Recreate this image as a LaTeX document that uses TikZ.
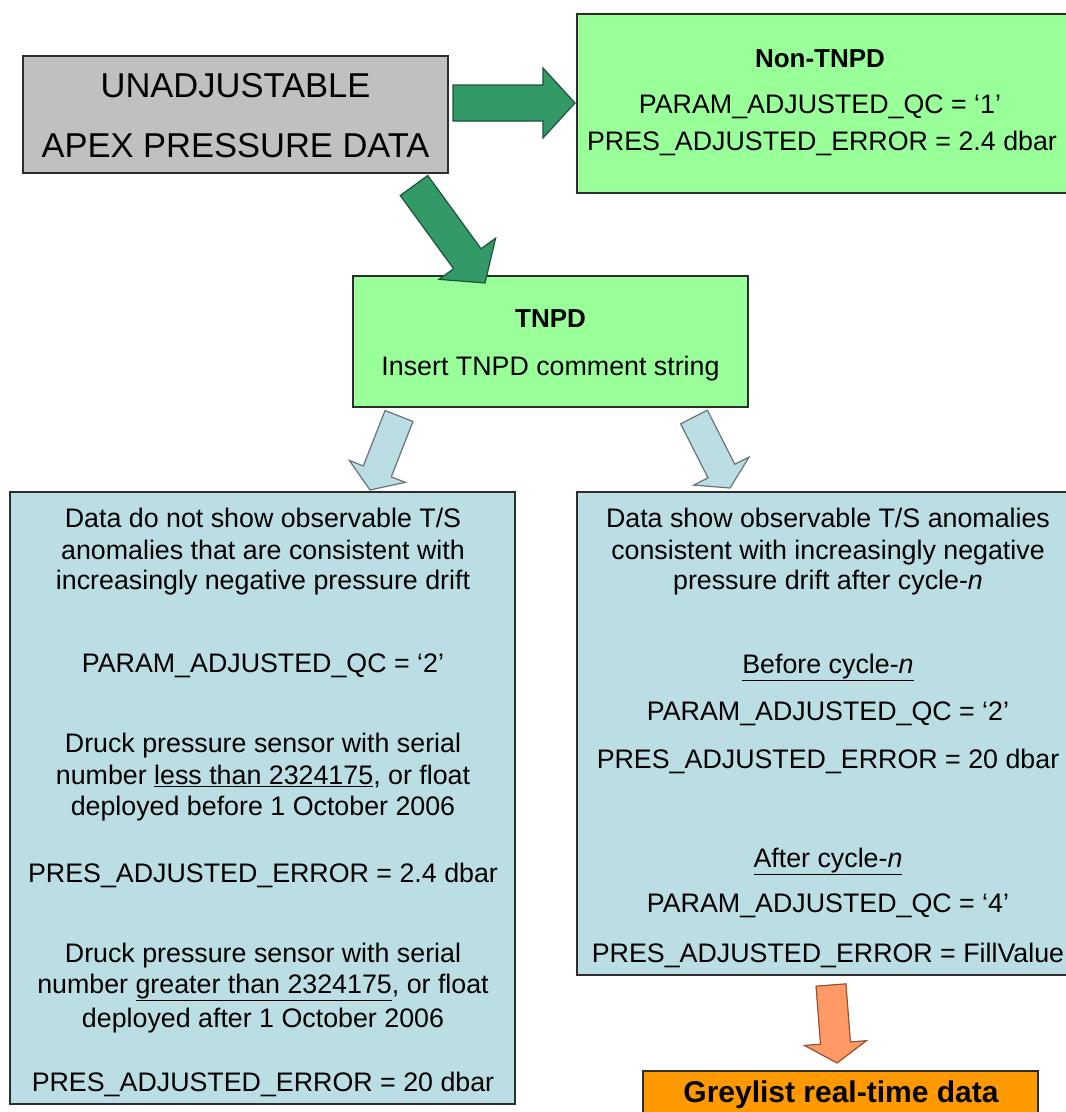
\documentclass[tikz,border=0pt]{standalone}
\usepackage{fontspec}
\setmainfont{Liberation Sans}
\usetikzlibrary{calc}
\definecolor{greyfill}{RGB}{192,192,192}
\definecolor{greenfill}{RGB}{153,255,153}
\definecolor{darkarrow}{RGB}{51,153,102}
\definecolor{darkarrowline}{RGB}{28,85,55}
\definecolor{bluefill}{RGB}{186,222,228}
\definecolor{bluearrowline}{RGB}{105,115,120}
\definecolor{salmonfill}{RGB}{255,153,102}
\definecolor{salmonline}{RGB}{150,80,50}
\definecolor{orangefill}{RGB}{255,153,0}
\definecolor{boxline}{RGB}{45,45,45}
\newcommand{\blockarrow}[6]{%
  \coordinate (#1-#2-base) at ($(#2)!#5!(#1)$);
  \draw[#6] ($(#1)!#3!90:(#2)$)
    -- ($(#1-#2-base)!#3!90:(#2)$)
    -- ($(#1-#2-base)!#4!90:(#2)$)
    -- (#2)
    -- ($(#1-#2-base)!#4!-90:(#2)$)
    -- ($(#1-#2-base)!#3!-90:(#2)$)
    -- ($(#1)!#3!-90:(#2)$) -- cycle;}
\tikzset{
  box/.style={draw=boxline, line width=1.8pt, inner sep=0pt, outer sep=0pt},
  body/.style={font=\fontsize{26.8}{31}\selectfont, inner sep=0pt, anchor=base},
  bodybold/.style={font=\fontsize{26}{31}\selectfont\bfseries, inner sep=0pt, anchor=base},
  bigtext/.style={font=\fontsize{34.5}{40}\selectfont, inner sep=0pt, anchor=base},
  darkarr/.style={fill=darkarrow, draw=darkarrowline, line width=1.2pt, line join=miter},
  bluearr/.style={fill=bluefill, draw=bluearrowline, line width=1.2pt, line join=miter},
  salmonarr/.style={fill=salmonfill, draw=salmonline, line width=1.2pt, line join=miter},
}
\begin{document}
\begin{tikzpicture}[x=1pt,y=-1pt]
\useasboundingbox (0,0) rectangle (1066,1112);
\clip (0,0) rectangle (1066,1112);
\fill[white] (0,0) rectangle (1066,1112);

% boxes
\node[box, fill=greyfill, minimum width=425pt, minimum height=117pt] (raw) at (235.5,114.5) {};
\node[box, fill=greenfill, minimum width=493pt, minimum height=179pt] (nontnpd) at (823.5,103.5) {};
\node[box, fill=greenfill, minimum width=395pt, minimum height=131pt] (tnpd) at (550.5,341.5) {};
\node[box, fill=bluefill, minimum width=505pt, minimum height=612pt] (nodrift) at (262.5,798) {};
\node[box, fill=bluefill, minimum width=502pt, minimum height=483pt] (drift) at (828,733.5) {};
\node[box, fill=orangefill, minimum width=395pt, minimum height=90pt] (grey) at (840.5,1116) {};

% texts: unadjustable
\node[bigtext] (raw1) at (235.5,97) {UNADJUSTABLE};
\node[bigtext] (raw2) at (235.5,157) {APEX PRESSURE DATA};

% non-TNPD
\node[bodybold] (nt1) at (820,67.5) {Non-TNPD};
\node[body] (nt2) at (820,113) {PARAM\_ADJUSTED\_QC = ‘1’};
\node[body] (nt3) at (822,150.5) {PRES\_ADJUSTED\_ERROR = 2.4 dbar};

% TNPD
\node[bodybold] (t1) at (550.5,327.5) {TNPD};
\node[body] (t2) at (550.5,375.5) {Insert TNPD comment string};

% left blue box
\node[body] (l1) at (263,527.5) {Data do not show observable T/S};
\node[body] (l2) at (263,559.5) {anomalies that are consistent with};
\node[body] (l3) at (263,589.5) {increasingly negative pressure drift};
\node[body] (l4) at (263,672.5) {PARAM\_ADJUSTED\_QC = ‘2’};
\node[body] (l5) at (263,752.5) {Druck pressure sensor with serial};
\node[body] (l6) at (263,784.5) {number \underline{less than 2324175}, or float};
\node[body] (l7) at (263,815.5) {deployed before 1 October 2006};
\node[body] (l8) at (263,882.5) {PRES\_ADJUSTED\_ERROR = 2.4 dbar};
\node[body] (l9) at (263,962.5) {Druck pressure sensor with serial};
\node[body] (l10) at (263,993.5) {number \underline{greater than 2324175}, or float};
\node[body] (l11) at (263,1027.5) {deployed after 1 October 2006};
\node[body] (l12) at (263,1091) {PRES\_ADJUSTED\_ERROR = 20 dbar};

% right blue box
\node[body] (r1) at (828,527.5) {Data show observable T/S anomalies};
\node[body] (r2) at (828,559.5) {consistent with increasingly negative};
\node[body] (r3) at (828,589.5) {pressure drift after cycle-\textit{n}};
\node[body] (r4) at (828,673.5) {\underline{Before cycle-\textit{n}}};
\node[body] (r5) at (828,720.5) {PARAM\_ADJUSTED\_QC = ‘2’};
\node[body] (r6) at (828,768.5) {PRES\_ADJUSTED\_ERROR = 20 dbar};
\node[body] (r7) at (828,867.5) {\underline{After cycle-\textit{n}}};
\node[body] (r8) at (828,912.5) {PARAM\_ADJUSTED\_QC = ‘4’};
\node[body] (r9) at (828,962.5) {PRES\_ADJUSTED\_ERROR = FillValue};

% greylist
\node[font=\fontsize{30}{36}\selectfont\bfseries, inner sep=0pt, anchor=base] (g1) at (841,1102) {Greylist real-time data};

% arrows
\coordinate (a1s) at (453,103);
\coordinate (a1t) at (575,103);
\blockarrow{a1s}{a1t}{18pt}{35pt}{32pt}{darkarr}
\coordinate (a2s) at (414,185.5);
\coordinate (a2t) at (485,283);
\blockarrow{a2s}{a2t}{17pt}{35pt}{30pt}{darkarr}
\coordinate (a3s) at (399,416);
\coordinate (a3t) at (370,490);
\blockarrow{a3s}{a3t}{15pt}{30pt}{20pt}{bluearr}
\coordinate (a4s) at (694,417);
\coordinate (a4t) at (730,488);
\blockarrow{a4s}{a4t}{15pt}{31pt}{19pt}{bluearr}
\coordinate (a5s) at (831,985);
\coordinate (a5t) at (837,1063);
\blockarrow{a5s}{a5t}{15pt}{31pt}{20pt}{salmonarr}
\end{tikzpicture}
\end{document}
